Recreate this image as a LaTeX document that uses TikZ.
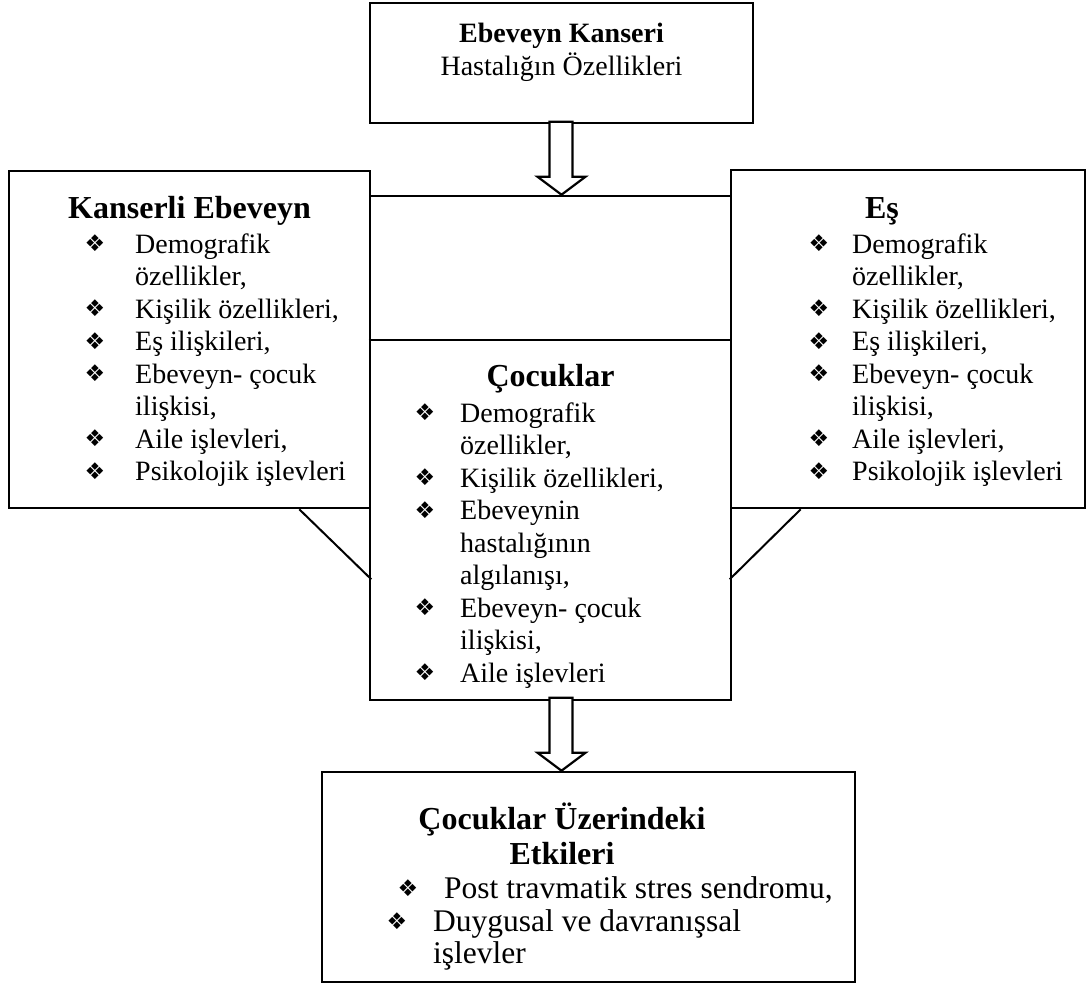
\documentclass[tikz,border=0pt]{standalone}
\usepackage{fontspec}
\setmainfont{Liberation Serif}
\newfontfamily\isaretfont{DejaVu Sans}
\usetikzlibrary{positioning}

\newcommand{\isaret}{{\isaretfont\fontsize{23}{23}\selectfont ❖}}
% madde: ad, isaret x, metin x, taban y, metin
\newcommand{\madde}[5]{%
  \node[imnode] (#1i) at (#2,#4-9.5) {\isaret};
  \node[metin] (#1) at (#3,#4) {#5};}
% blok ok, ucu verilen noktada
\newcommand{\blokok}[1]{%
  \draw[okucu] (#1) -- ++(-24,-18) -- ++(12,0) -- ++(0,-55) -- ++(23,0)
    -- ++(0,55) -- ++(13,0) -- cycle;}

\begin{document}
\begin{tikzpicture}[x=1pt, y=-1pt,
    kutu/.style={draw=black, line width=2.6pt, inner sep=0pt},
    ince/.style={draw=black, line width=2pt},
    metin/.style={font=\fontsize{28}{33}\selectfont, anchor=base west, inner sep=0pt},
    altmetin/.style={font=\fontsize{31.5}{35}\selectfont, anchor=base west, inner sep=0pt},
    ortametin/.style={font=\fontsize{28}{33}\selectfont, anchor=base, inner sep=0pt},
    kbaslik/.style={font=\fontsize{28}{33}\selectfont\bfseries, anchor=base, inner sep=0pt},
    baslik/.style={font=\fontsize{32}{37}\selectfont\bfseries, anchor=base, inner sep=0pt},
    imnode/.style={anchor=center, inner sep=0pt},
    okucu/.style={draw=black, line width=2.2pt, fill=white, line join=miter}]

  \useasboundingbox (0,0) rectangle (1090,991);

  % kutular
  \node[kutu, minimum width=383, minimum height=120] (ust) at (561.5,63) {};
  \node[kutu, minimum width=361, minimum height=504] (orta) at (550.5,448) {};
  \node[kutu, minimum width=361, minimum height=337] (sol) at (189.5,339.5) {};
  \node[kutu, minimum width=354, minimum height=338] (sag) at (908,339) {};
  \node[kutu, minimum width=533, minimum height=210] (alt) at (588.5,877) {};

  \coordinate (ara) at (550.5,340);
  \draw[kutu] (ara -| orta.west) -- (ara -| orta.east);

  % capraz cizgiler
  \draw[ince] ([xshift=-72]sol.south east) -- ([yshift=-70]sol.south east);
  \draw[ince] ([xshift=71]sag.south west) -- ([yshift=-70]sag.south west);

  % oklar
  \coordinate (ucbir) at (orta.north -| ust.south);
  \coordinate (uciki) at (alt.north -| ust.south);
  \blokok{ucbir}
  \blokok{uciki}

  % ust kutu
  \node[kbaslik] (ustbaslik) at (561.5,42) {Ebeveyn Kanseri};
  \node[ortametin] (ustalt) at (561.5,75) {Hastalığın Özellikleri};

  % sol kutu
  \node[baslik] (solbaslik) at (189.5,218) {Kanserli Ebeveyn};
  \madde{sol1}{95}{135}{253}{Demografik}
  \node[metin] (sol1b) at (135,285.5) {özellikler,};
  \madde{sol2}{95}{135}{318}{Kişilik özellikleri,}
  \madde{sol3}{95}{135}{350.5}{Eş ilişkileri,}
  \madde{sol4}{95}{135}{383}{Ebeveyn- çocuk}
  \node[metin] (sol4b) at (135,415.5) {ilişkisi,};
  \madde{sol5}{95}{135}{448}{Aile işlevleri,}
  \madde{sol6}{95}{135}{480.5}{Psikolojik işlevleri}

  % sag kutu
  \node[baslik] (sagbaslik) at (882,218) {Eş};
  \madde{sag1}{819}{852}{253}{Demografik}
  \node[metin] (sag1b) at (852,285.5) {özellikler,};
  \madde{sag2}{819}{852}{318}{Kişilik özellikleri,}
  \madde{sag3}{819}{852}{350.5}{Eş ilişkileri,}
  \madde{sag4}{819}{852}{383}{Ebeveyn- çocuk}
  \node[metin] (sag4b) at (852,415.5) {ilişkisi,};
  \madde{sag5}{819}{852}{448}{Aile işlevleri,}
  \madde{sag6}{819}{852}{480.5}{Psikolojik işlevleri}

  % orta kutu
  \node[baslik] (ortabaslik) at (550.5,386) {Çocuklar};
  \madde{orta1}{425}{460}{422}{Demografik}
  \node[metin] (orta1b) at (460,454.5) {özellikler,};
  \madde{orta2}{425}{460}{487}{Kişilik özellikleri,}
  \madde{orta3}{425}{460}{519.5}{Ebeveynin}
  \node[metin] (orta3b) at (460,552) {hastalığının};
  \node[metin] (orta3c) at (460,584.5) {algılanışı,};
  \madde{orta4}{425}{460}{617}{Ebeveyn- çocuk}
  \node[metin] (orta4b) at (460,649.5) {ilişkisi,};
  \madde{orta5}{425}{460}{682}{Aile işlevleri}

  % alt kutu
  \node[baslik] (altbaslik) at (562,829) {Çocuklar Üzerindeki};
  \node[baslik] (altbaslikb) at (562,864) {Etkileri};
  \node[imnode] (alt1i) at (408,888.5) {\isaret};
  \node[altmetin] (alt1) at (444,898) {Post travmatik stres sendromu,};
  \node[imnode] (alt2i) at (397,921.5) {\isaret};
  \node[altmetin] (alt2) at (433,931) {Duygusal ve davranışsal};
  \node[altmetin] (alt2b) at (433,963) {işlevler};
\end{tikzpicture}
\end{document}
